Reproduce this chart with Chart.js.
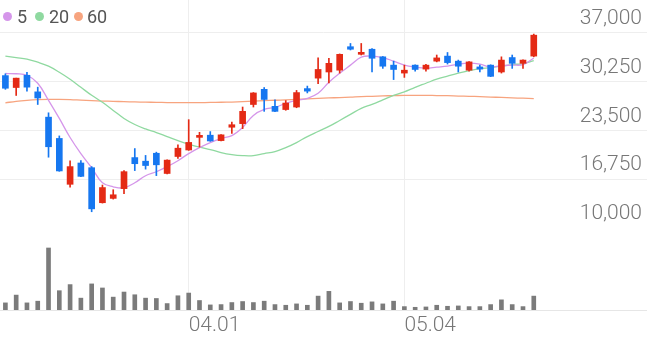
<!DOCTYPE html>
<html>
<head>
<meta charset="utf-8">
<script src="https://cdn.jsdelivr.net/npm/chart.js@4.4.0/dist/chart.umd.min.js"></script>
<style>
  html, body { margin: 0; padding: 0; background: #fff; }
  #wrap { position: relative; width: 647px; height: 337px; overflow: hidden; font-family: Roboto, sans-serif; }
  #priceChart { position: absolute; left: 0; top: 0; }
  #volumeChart { position: absolute; left: 0; top: 228px; }
  .dot { position: absolute; top: 11.5px; width: 9px; height: 9px; border-radius: 50%; }
  .lbl { position: absolute; top: 7.5px; font-size: 18px; line-height: 18px; color: #555; }
</style>
</head>
<body>
<div id="wrap">
  <canvas id="priceChart" width="647" height="228"></canvas>
  <canvas id="volumeChart" width="647" height="109"></canvas>
  <span class="dot" style="left:2.5px; background:#d596ea"></span><span class="lbl" style="left:17px">5</span>
  <span class="dot" style="left:34.5px; background:#8fd9a0"></span><span class="lbl" style="left:49px">20</span>
  <span class="dot" style="left:73.5px; background:#f7a47f"></span><span class="lbl" style="left:87px">60</span>
</div>
<script>
// 50 trading days drawn, 10 empty slots on the right
const slotCount = 60;
const xTickIndex = [17, 37];
const xTickLabels = ['04.01', '05.04'];
const priceTicks = [10000, 16750, 23500, 30250, 37000];

const opens  = [31100, 29450, 31150, 28850, 25350, 22400, 16050, 19000, 18350, 13500,
                14100, 15450, 19750, 19250, 20350, 17550, 19900, 20800, 22550, 22850,
                22100, 23950, 24450, 27100, 29200, 26850, 26400, 26750, 29300, 30750,
                31600, 31850, 35100, 34050, 34750, 33700, 32550, 31450, 32550, 32000,
                33100, 33800, 33100, 31850, 32300, 32550, 31600, 33600, 32800, 33800];
const highs  = [31350, 30750, 31550, 29500, 25950, 22750, 19300, 19350, 18500, 15950,
                15300, 17950, 21000, 20050, 20500, 19450, 21500, 25000, 23250, 23350,
                22950, 24650, 26750, 28750, 29450, 27750, 27650, 29050, 29650, 33550,
                33500, 34100, 35550, 35550, 34850, 33750, 33100, 32550, 32600, 32650,
                33950, 34300, 33250, 33050, 32550, 32600, 33700, 33950, 33300, 36850];
const lows   = [29200, 28350, 28950, 27100, 19800, 17850, 15650, 17100, 12250, 13450,
                14000, 14750, 17950, 18150, 17250, 17500, 19650, 20750, 21200, 22000,
                22050, 23100, 23750, 26750, 26150, 26100, 26300, 26650, 28700, 30000,
                30100, 31450, 34650, 33950, 31600, 32100, 30550, 30850, 31700, 31700,
                33000, 32700, 31600, 31700, 31600, 30950, 31450, 32100, 32100, 33700];
const closes = [29350, 30750, 29500, 28000, 21250, 17900, 18500, 17150, 12650, 15600,
                14600, 17800, 18900, 18650, 18750, 19400, 21050, 21850, 22800, 22050,
                22900, 24300, 26150, 28700, 27800, 26150, 27300, 28750, 28950, 31950,
                32800, 34050, 34750, 34250, 33500, 32400, 31950, 31850, 31950, 32550,
                33550, 32900, 32400, 33000, 32000, 31000, 33250, 32800, 33250, 36700];
const volumes = [210000, 440000, 210000, 260000, 1830000, 570000, 750000, 350000, 770000, 650000,
                 380000, 530000, 450000, 350000, 340000, 190000, 420000, 500000, 280000, 150000,
                 160000, 220000, 250000, 220000, 260000, 160000, 140000, 180000, 140000, 410000,
                 550000, 210000, 250000, 200000, 240000, 180000, 260000, 100000, 80000, 90000,
                 140000, 110000, 120000, 100000, 100000, 160000, 300000, 160000, 100000, 410000];
const ma5  = [31390, 31360, 31150, 30040, 27680, 25170, 22530, 20300, 18350, 16260,
              15710, 15570, 16260, 17240, 17790, 18490, 19320, 20300, 21130, 21830,
              22390, 22800, 23920, 25590, 26420, 26700, 27260, 27680, 27950, 28650,
              30180, 31430, 32550, 33660, 33800, 33590, 33100, 32550, 32270, 32130,
              32270, 32410, 32690, 32820, 32690, 32270, 32480, 32550, 32620, 33520];
const ma20 = [33800, 33590, 33380, 32960, 32410, 31570, 30600, 29480, 28370, 27400,
              26280, 25170, 24330, 23710, 23220, 22660, 22110, 21620, 21200, 20860,
              20440, 20160, 20020, 20020, 20300, 20580, 21130, 21830, 22660, 23360,
              24060, 24890, 25730, 26560, 27120, 27740, 28370, 28860, 29480, 30040,
              30600, 31020, 31430, 31780, 32060, 32200, 32410, 32620, 32760, 33170];
const ma60 = [27330, 27540, 27680, 27770, 27810, 27810, 27770, 27700, 27630, 27580,
              27540, 27490, 27450, 27420, 27400, 27370, 27360, 27360, 27360, 27380,
              27410, 27440, 27490, 27560, 27630, 27690, 27740, 27810, 27880, 27950,
              28010, 28060, 28120, 28190, 28230, 28290, 28330, 28370, 28370, 28370,
              28340, 28320, 28270, 28230, 28190, 28130, 28080, 28020, 27970, 27910];

const UP = '#e42a15';
const DOWN = '#1677f0';
const GRID = '#eeeeee';

const slots = [];
for (let i = 0; i < slotCount; i++) slots.push(i);
const bodies = opens.map((o, i) => [o, closes[i]]);
const wicks = lows.map((l, i) => [l, highs[i]]);
const candleColors = opens.map((o, i) => closes[i] >= o ? UP : DOWN);

const vGrid = ctx => (ctx.tick && xTickIndex.includes(ctx.tick.value)) ? GRID : 'rgba(0,0,0,0)';
const axisFont = { family: 'Roboto', size: 21, weight: 300 };

new Chart(document.getElementById('priceChart'), {
    type: 'bar',
    data: {
        labels: slots,
        datasets: [
            { data: bodies, backgroundColor: candleColors, barThickness: 6, minBarLength: 2, grouped: false, order: 0 },
            { data: wicks, backgroundColor: candleColors, barThickness: 1, grouped: false, order: 1 },
            { type: 'line', label: '5', data: ma5, borderColor: '#d596ea', borderWidth: 1.3, pointRadius: 0, tension: 0.4, order: 2 },
            { type: 'line', label: '20', data: ma20, borderColor: '#8fd9a0', borderWidth: 1.3, pointRadius: 0, tension: 0.4, order: 3 },
            { type: 'line', label: '60', data: ma60, borderColor: '#f7a47f', borderWidth: 1.3, pointRadius: 0, tension: 0.4, order: 4 }
        ]
    },
    options: {
        responsive: false,
        animation: false,
        layout: { padding: 0 },
        plugins: { legend: { display: false }, tooltip: { enabled: false } },
        scales: {
            x: {
                offset: true,
                grid: { offset: false, drawTicks: false, color: vGrid },
                border: { display: false },
                ticks: { display: false, autoSkip: false },
                afterFit: s => { s.height = 0; s.paddingLeft = 0; s.paddingRight = 0; }
            },
            y: {
                position: 'right',
                min: 10000,
                max: 41568,
                afterBuildTicks: s => { s.ticks = priceTicks.map(v => ({ value: v })); },
                afterFit: s => { s.width = 0; s.paddingTop = 0; s.paddingBottom = 0; },
                grid: { color: GRID, drawTicks: false },
                border: { display: false },
                ticks: {
                    mirror: true,
                    padding: -5,
                    labelOffset: -14,
                    font: axisFont,
                    color: '#777',
                    callback: v => v.toLocaleString('en-US')
                }
            }
        }
    }
});

new Chart(document.getElementById('volumeChart'), {
    type: 'bar',
    data: {
        labels: slots,
        datasets: [{ data: volumes, backgroundColor: '#7b7b7b', barThickness: 4 }]
    },
    options: {
        responsive: false,
        animation: false,
        layout: { padding: 0 },
        plugins: { legend: { display: false }, tooltip: { enabled: false } },
        scales: {
            x: {
                offset: true,
                grid: { offset: false, drawTicks: false, color: vGrid },
                border: { display: true, color: '#e6e6e6' },
                ticks: {
                    autoSkip: false,
                    maxRotation: 0,
                    align: 'start',
                    padding: 3,
                    font: axisFont,
                    color: '#777',
                    callback: (v, i) => {
                        const k = xTickIndex.indexOf(i);
                        return k >= 0 ? xTickLabels[k] : '';
                    }
                },
                afterFit: s => { s.height = 27; s.paddingLeft = 0; s.paddingRight = 0; }
            },
            y: { display: false, min: 0, max: 2420000 }
        }
    }
});
</script>
</body>
</html>
